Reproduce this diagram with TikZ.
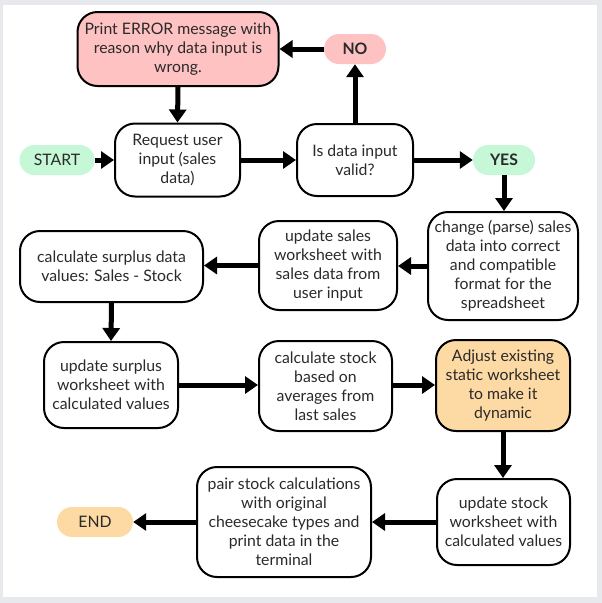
\documentclass[tikz,border=0pt]{standalone}
\usepackage{fontspec}
\setmainfont{Lato}
\usetikzlibrary{arrows.meta}
\definecolor{bggray}{HTML}{E8E9ED}
\definecolor{pinkf}{HTML}{FFC2C2}
\definecolor{greenf}{HTML}{C6F7D6}
\definecolor{orangef}{HTML}{FDD9A3}
\definecolor{txt}{HTML}{2A2A2A}
\tikzset{
  box/.style={draw=black, line width=2pt, rounded corners=20pt, inner sep=0pt, align=center,
    font=\fontsize{15.8}{19}\selectfont, text=txt},
  pill/.style={rounded corners=15pt, inner sep=0pt, minimum height=30pt, align=center,
    font=\fontsize{15.8}{17}\selectfont, text=txt},
  arr/.style={line width=5pt, -{Triangle[width=17pt,length=13pt]}},
}
\begin{document}
\begin{tikzpicture}[x=1pt,y=-1pt]
\useasboundingbox (0,0) rectangle (602,603);
\fill[bggray] (0,0) rectangle (602,603);
\fill[white] (3,5) rectangle (597,597);

\node[box, fill=pinkf, minimum width=201pt, minimum height=74pt] (err) at (178,49) {Print ERROR message with\\reason why data input is\\wrong.};
\node[box, minimum width=125pt, minimum height=73pt] (req) at (177.5,160) {Request user\\input (sales\\data)};
\node[pill, fill=greenf, minimum width=75pt] (start) at (57,160) {START};
\node[box, minimum width=116pt, minimum height=72pt] (valid) at (355,160) {Is data input\\valid?};
\node[pill, fill=pinkf, minimum width=62pt, font=\fontsize{15.8}{17}\selectfont\bfseries] (no) at (355,49) {NO};
\node[pill, fill=greenf, minimum width=62pt, font=\fontsize{15.8}{17}\selectfont\bfseries] (yes) at (504,160) {YES};
\node[box, minimum width=150pt, minimum height=108pt] (parse) at (503,266) {change (parse) sales\\data into correct\\and compatible\\format for the\\spreadsheet};
\node[box, minimum width=138pt, minimum height=89pt] (upsales) at (328,265.5) {update sales\\worksheet with\\sales data from\\user input};
\node[box, minimum width=183pt, minimum height=71pt] (surcalc) at (111.5,266.5) {calculate surplus data\\values: Sales - Stock};
\node[box, minimum width=134pt, minimum height=86pt] (upsur) at (111,385) {update surplus\\worksheet with\\calculated values};
\node[box, minimum width=133pt, minimum height=90pt] (calcstock) at (325.5,386) {calculate stock\\based on\\averages from\\last sales};
\node[box, fill=orangef, minimum width=134pt, minimum height=91pt] (adjust) at (503,385.5) {Adjust existing\\static worksheet\\to make it\\dynamic};
\node[box, minimum width=133pt, minimum height=86pt] (upstock) at (503.5,522) {update stock\\worksheet with\\calculated values};
\node[box, minimum width=174pt, minimum height=110pt] (pair) at (284,522) {pair stock calculations\\with original\\cheesecake types and\\print data in the\\terminal};
\node[pill, fill=orangef, minimum width=76pt] (end) at (95,522) {END};

\draw[arr] (err.south) -- (req.north);
\draw[arr] (start.east) -- (req.west);
\draw[arr] (req.east) -- (valid.west);
\draw[arr] (valid.north) -- (no.south);
\draw[arr] (no.west) -- (err.east);
\draw[arr] (valid.east) -- (yes.west);
\draw[arr] (yes.south) -- (yes.south |- parse.north);
\draw[arr] (parse.west) -- (upsales.east |- parse.west);
\draw[arr] (upsales.west) -- (surcalc.east |- upsales.west);
\draw[arr] (surcalc.south) -- (upsur.north);
\draw[arr] (upsur.east) -- (calcstock.west |- upsur.east);
\draw[arr] (calcstock.east |- upsur.east) -- (adjust.west |- upsur.east);
\draw[arr] (adjust.south) -- (adjust.south |- upstock.north);
\draw[arr] (upstock.west) -- (pair.east |- upstock.west);
\draw[arr] (pair.west) -- (end.east);
\end{tikzpicture}
\end{document}
